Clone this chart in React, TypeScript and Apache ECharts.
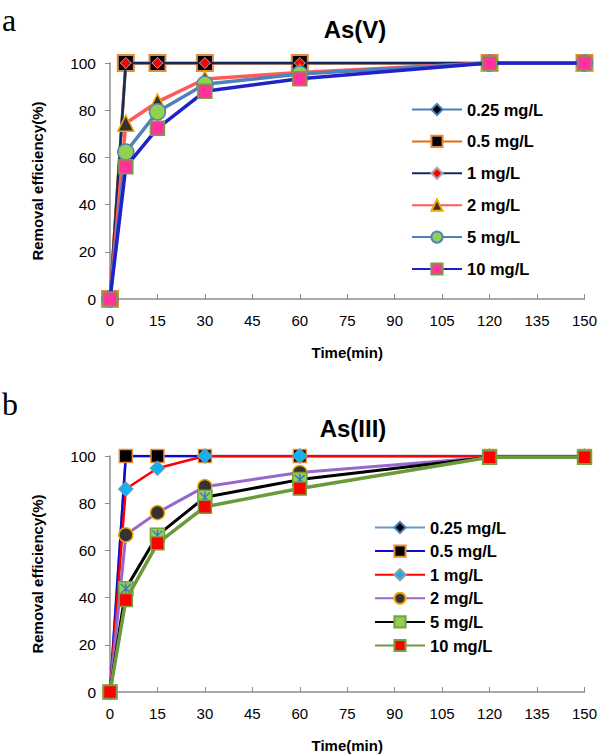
import React, { useEffect, useRef } from "react";
import * as echarts from "echarts";

const times = [0, 5, 15, 30, 60, 120, 150];
const xTicks = [0, 15, 30, 45, 60, 75, 90, 105, 120, 135, 150];
const yTicks = [0, 20, 40, 60, 80, 100];
const concNames = ["0.25 mg/L", "0.5 mg/L", "1 mg/L", "2 mg/L", "5 mg/L", "10 mg/L"];

// As(V)
const asV_025 = [0, 100, 100, 100, 100, 100, 100];
const asV_05 = [0, 100, 100, 100, 100, 100, 100];
const asV_1 = [0, 100, 100, 100, 100, 100, 100];
const asV_2 = [0, 74.5, 83.5, 93.2, 96, 100, 100];
const asV_5 = [0, 62.3, 79.3, 91, 95.3, 100, 100];
const asV_10 = [0, 56, 72.3, 88, 93.3, 100, 100];

// As(III)
const asIII_025 = [0, 100, 100, 100, 100, 100, 100];
const asIII_05 = [0, 100, 100, 100, 100, 100, 100];
const asIII_1 = [0, 86, 94.8, 100, 100, 100, 100];
const asIII_2 = [0, 66.6, 76, 87, 93, 99.5, 99.5];
const asIII_5 = [0, 43.8, 66.4, 82.5, 90, 99.5, 99.5];
const asIII_10 = [0, 39, 63, 78.5, 86.2, 99.5, 99.5];

const pair = (vals: number[]) => times.map((t, i) => [t, vals[i]]);

const FONT = "Liberation Sans, Arial, sans-serif";
const ASTERISK =
  "path://M4.4,0 L5.6,0 L5.6,10 L4.4,10 Z M0.4,1.2 L1.2,0.4 L9.6,8.8 L8.8,9.6 Z M8.8,0.4 L9.6,1.2 L1.2,9.6 L0.4,8.8 Z";

export default function App() {
  const ref = useRef<HTMLDivElement>(null);
  useEffect(() => {
    if (!ref.current) return;
    const chart = echarts.init(ref.current, null, { renderer: "svg" });

    const topStyles = [
      { line: "#4a7ebb", width: 3, symbol: "diamond", size: 9, fill: "#000", border: "#4a7ebb", bw: 1 },
      { line: "#e46c0a", width: 3, symbol: "rect", size: 16, fill: "#000", border: "#e88a3c", bw: 2 },
      { line: "#132b5c", width: 2.5, symbol: "diamond", size: 11, fill: "#ff0000", border: "#aaaaaa", bw: 1 },
      { line: "#ff5a5a", width: 3.5, symbol: "triangle", size: 16, fill: "#333333", border: "#f0a800", bw: 1.5 },
      { line: "#4f81bd", width: 3.5, symbol: "circle", size: 16, fill: "#92d050", border: "#4f81bd", bw: 1.5 },
      { line: "#1e22c8", width: 3.5, symbol: "rect", size: 14, fill: "#ff3399", border: "#77a045", bw: 1.5 },
    ];
    const botStyles = [
      { line: "#6699cc", width: 2.5, symbol: "diamond", size: 9, fill: "#000", border: "#4a7ebb", bw: 1 },
      { line: "#0a0ad0", width: 2.5, symbol: "rect", size: 13, fill: "#000", border: "#e88a3c", bw: 1.5 },
      { line: "#ff0000", width: 2.5, symbol: "diamond", size: 15, fill: "#13b0f0", border: "#999999", bw: 1 },
      { line: "#9966cc", width: 3, symbol: "circle", size: 14, fill: "#333333", border: "#f0a800", bw: 1.5 },
      { line: "#000000", width: 3, symbol: "rect", size: 14, fill: "#92d050", border: "#77a045", bw: 1.5 },
      { line: "#6a9a3a", width: 3.5, symbol: "rect", size: 13, fill: "#ff0000", border: "#77a045", bw: 1.5 },
    ];
    const topData = [asV_025, asV_05, asV_1, asV_2, asV_5, asV_10];
    const botData = [asIII_025, asIII_05, asIII_1, asIII_2, asIII_5, asIII_10];

    const mkSeries = (prefix: string, styles: any[], data: number[][], idx: number) =>
      styles.map((s, i) => ({
        type: "line",
        name: prefix + concNames[i],
        xAxisIndex: idx,
        yAxisIndex: idx,
        data: pair(data[i]),
        symbol: s.symbol,
        symbolSize: s.size,
        showAllSymbol: true,
        lineStyle: { color: s.line, width: s.width },
        itemStyle: { color: s.fill, borderColor: s.border, borderWidth: s.bw },
        z: 2 + i,
      }));

    const xAxisBase = (idx: number) => ({
      type: "value",
      gridIndex: idx,
      min: 0,
      max: 150,
      interval: 15,
      name: "Time(min)",
      nameLocation: "middle",
      nameGap: 46,
      nameTextStyle: { fontFamily: FONT, fontWeight: "bold", fontSize: 15, color: "#000" },
      axisLine: { lineStyle: { color: "#8c8c8c", width: 1.5 } },
      axisTick: { inside: true, length: 5, lineStyle: { color: "#8c8c8c" } },
      axisLabel: { margin: 14, fontFamily: FONT, fontSize: 15, color: "#000" },
      splitLine: { show: false },
    });
    const yAxisBase = (idx: number) => ({
      type: "value",
      gridIndex: idx,
      min: 0,
      max: 100,
      interval: 20,
      name: "Removal efficiency(%)",
      nameLocation: "middle",
      nameGap: 65,
      nameTextStyle: { fontFamily: FONT, fontWeight: "bold", fontSize: 15, color: "#000" },
      axisLine: { show: true, lineStyle: { color: "#8c8c8c", width: 1.5 } },
      axisTick: { show: true, inside: false, length: 5, lineStyle: { color: "#8c8c8c" } },
      axisLabel: { margin: 14, fontFamily: FONT, fontSize: 15.5, color: "#000" },
      splitLine: { show: false },
    });

    const legendBase = {
      orient: "vertical",
      itemWidth: 50,
      itemHeight: 14,
      textStyle: { fontFamily: FONT, fontWeight: "bold", fontSize: 16.5, color: "#000" },
      formatter: (n: string) => n.slice(2),
      selectedMode: false,
    };

    chart.setOption({
      animation: false,
      backgroundColor: "#fff",
      title: [
        { text: "As(V)", left: 350, top: 12, textAlign: "center", textStyle: { fontFamily: FONT, fontWeight: "bold", fontSize: 24, color: "#000" } },
        { text: "As(III)", left: 348, top: 411, textAlign: "center", textStyle: { fontFamily: FONT, fontWeight: "bold", fontSize: 24, color: "#000" } },
      ],
      graphic: [
        { type: "text", left: 2, top: 4, style: { text: "a", font: "32px 'Liberation Serif', serif", fill: "#000" } },
        { type: "text", left: 2, top: 388, style: { text: "b", font: "32px 'Liberation Serif', serif", fill: "#000" } },
      ],
      grid: [
        { left: 110, width: 475, top: 63, height: 236 },
        { left: 110, width: 475, top: 456, height: 238 },
      ],
      xAxis: [xAxisBase(0), xAxisBase(1)],
      yAxis: [yAxisBase(0), yAxisBase(1)],
      legend: [
        { ...legendBase, left: 406, top: 96, itemGap: 14.9, data: concNames.map((n) => "a:" + n) },
        { ...legendBase, left: 369, top: 514, itemGap: 6.6, data: concNames.map((n) => "b:" + n) },
      ],
      series: [
        ...mkSeries("a:", topStyles, topData, 0),
        ...mkSeries("b:", botStyles, botData, 1).slice(0, 5),
        {
          type: "line",
          name: "asterisk",
          xAxisIndex: 1,
          yAxisIndex: 1,
          data: pair(asIII_5),
          symbol: ASTERISK,
          symbolSize: 11,
          showAllSymbol: true,
          lineStyle: { width: 0, opacity: 0 },
          itemStyle: { color: "#3f6fd0" },
          z: 6,
        },
        ...mkSeries("b:", botStyles, botData, 1).slice(5),
      ],
    });
    return () => chart.dispose();
  }, []);
  return (
    <div
      ref={ref}
      style={{ position: "fixed", left: 0, top: 0, width: 600, height: 754, background: "#fff" }}
    />
  );
}
